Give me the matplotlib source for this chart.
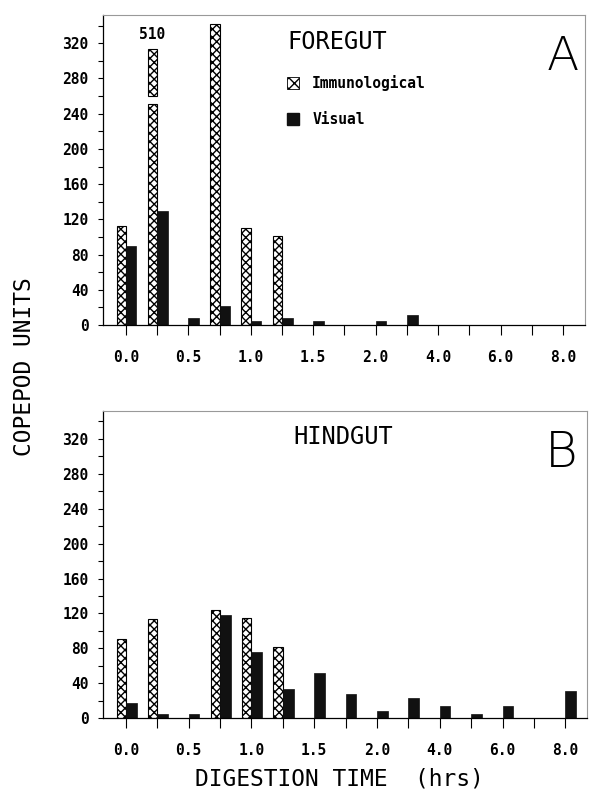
import matplotlib
matplotlib.use("Agg")
import matplotlib.pyplot as plt
from matplotlib.patches import Patch
from matplotlib.ticker import MultipleLocator, FuncFormatter

# digestion time categories (hrs), labelled every other one
times = [0.0, 0.25, 0.5, 0.75, 1.0, 1.25, 1.5, 1.75, 2.0, 3.0, 4.0, 5.0, 6.0, 7.0, 8.0]
tick_labels = ["0.0", "", "0.5", "", "1.0", "", "1.5", "", "2.0", "", "4.0", "", "6.0", "", "8.0"]

fore_immuno = [112, 510, 0, 342, 110, 101, 0, 0, 0, 0, 0, 0, 0, 0, 0]
fore_visual = [90, 130, 8, 22, 5, 8, 5, 0, 5, 11, 0, 0, 0, 0, 0]
hind_immuno = [91, 114, 0, 124, 115, 82, 0, 0, 0, 0, 0, 0, 0, 0, 0]
hind_visual = [17, 5, 5, 118, 76, 34, 52, 28, 8, 23, 14, 5, 14, 0, 31]

MONO = dict(family="DejaVu Sans Mono", weight="bold", size=10.5)
BIG = dict(family="DejaVu Sans Mono", size=16.5)
YMAX = 352
BW = 0.3

fig = plt.figure(figsize=(5.89, 7.96), dpi=100)
ax1 = fig.add_axes([0.175, 0.5917, 0.818, 0.3894])
ax2 = fig.add_axes([0.175, 0.0976, 0.822, 0.3864])


def draw_bars(ax, immuno, visual):
    x = list(range(len(times)))
    for i, v in zip(x, immuno):
        if v == 0:
            continue
        if v > YMAX:
            # broken bar: lower part, gap, upper stub and value above
            ax.bar(i, 251, width=-BW, align="edge", color="white",
                   edgecolor="black", hatch="xxxx", linewidth=0.8)
            ax.bar(i, 53, bottom=260, width=-BW, align="edge", color="white",
                   edgecolor="black", hatch="xxxx", linewidth=0.8)
            ax.text(i - BW / 2, 330, str(v), ha="center", va="center", **MONO)
        else:
            ax.bar(i, v, width=-BW, align="edge", color="white",
                   edgecolor="black", hatch="xxxx", linewidth=0.8)
    ax.bar(x, visual, width=BW + 0.04, align="edge", color="#111111",
           edgecolor="#111111", linewidth=0.5)

    ax.set_xlim(-0.73, 14.7)
    ax.set_ylim(0, YMAX)
    ax.set_xticks(x)
    ax.set_xticklabels(tick_labels, **MONO)
    ax.yaxis.set_major_locator(MultipleLocator(20))
    ax.yaxis.set_major_formatter(
        FuncFormatter(lambda v, p: "%d" % v if int(v) % 40 == 0 else ""))
    for lab in ax.get_yticklabels():
        lab.set_fontfamily("DejaVu Sans Mono")
        lab.set_fontweight("bold")
        lab.set_fontsize(10.5)
    ax.tick_params(axis="y", direction="out", length=3.5, width=0.8, pad=7)
    ax.tick_params(axis="x", direction="out", length=7, width=0.8, pad=11)
    for s in ["top", "right"]:
        ax.spines[s].set_color("#999999")
        ax.spines[s].set_linewidth(0.8)
    ax.spines["left"].set_linewidth(0.9)
    ax.spines["bottom"].set_linewidth(0.9)


draw_bars(ax1, fore_immuno, fore_visual)
draw_bars(ax2, hind_immuno, hind_visual)

ax1.text(0.383, 0.913, "FOREGUT", transform=ax1.transAxes, va="center",
         family="DejaVu Sans Mono", size=17)
ax1.text(0.954, 0.865, "A", transform=ax1.transAxes, fontsize=34,
         family="DejaVu Sans", weight="light", ha="center", va="center")
ax2.text(0.393, 0.915, "HINDGUT", transform=ax2.transAxes, va="center",
         family="DejaVu Sans Mono", size=17)
ax2.text(0.946, 0.862, "B", transform=ax2.transAxes, fontsize=36,
         family="DejaVu Sans", weight="light", ha="center", va="center")

handles = [Patch(facecolor="white", edgecolor="black", hatch="xxx", linewidth=0.6),
           Patch(facecolor="#111111", edgecolor="#111111")]
ax1.legend(handles, ["Immunological", "Visual"], loc="upper left",
           bbox_to_anchor=(0.381, 0.806), frameon=False, borderpad=0,
           borderaxespad=0, handlelength=0.85, handleheight=0.9,
           handletextpad=0.9, labelspacing=1.4, prop=MONO)

fig.text(0.041, 0.54, "COPEPOD UNITS", rotation=90, ha="center", va="center", **BIG)
fig.text(0.576, 0.0214, "DIGESTION TIME  (hrs)", ha="center", va="center", **BIG)

fig.savefig("out.png", dpi=100)
